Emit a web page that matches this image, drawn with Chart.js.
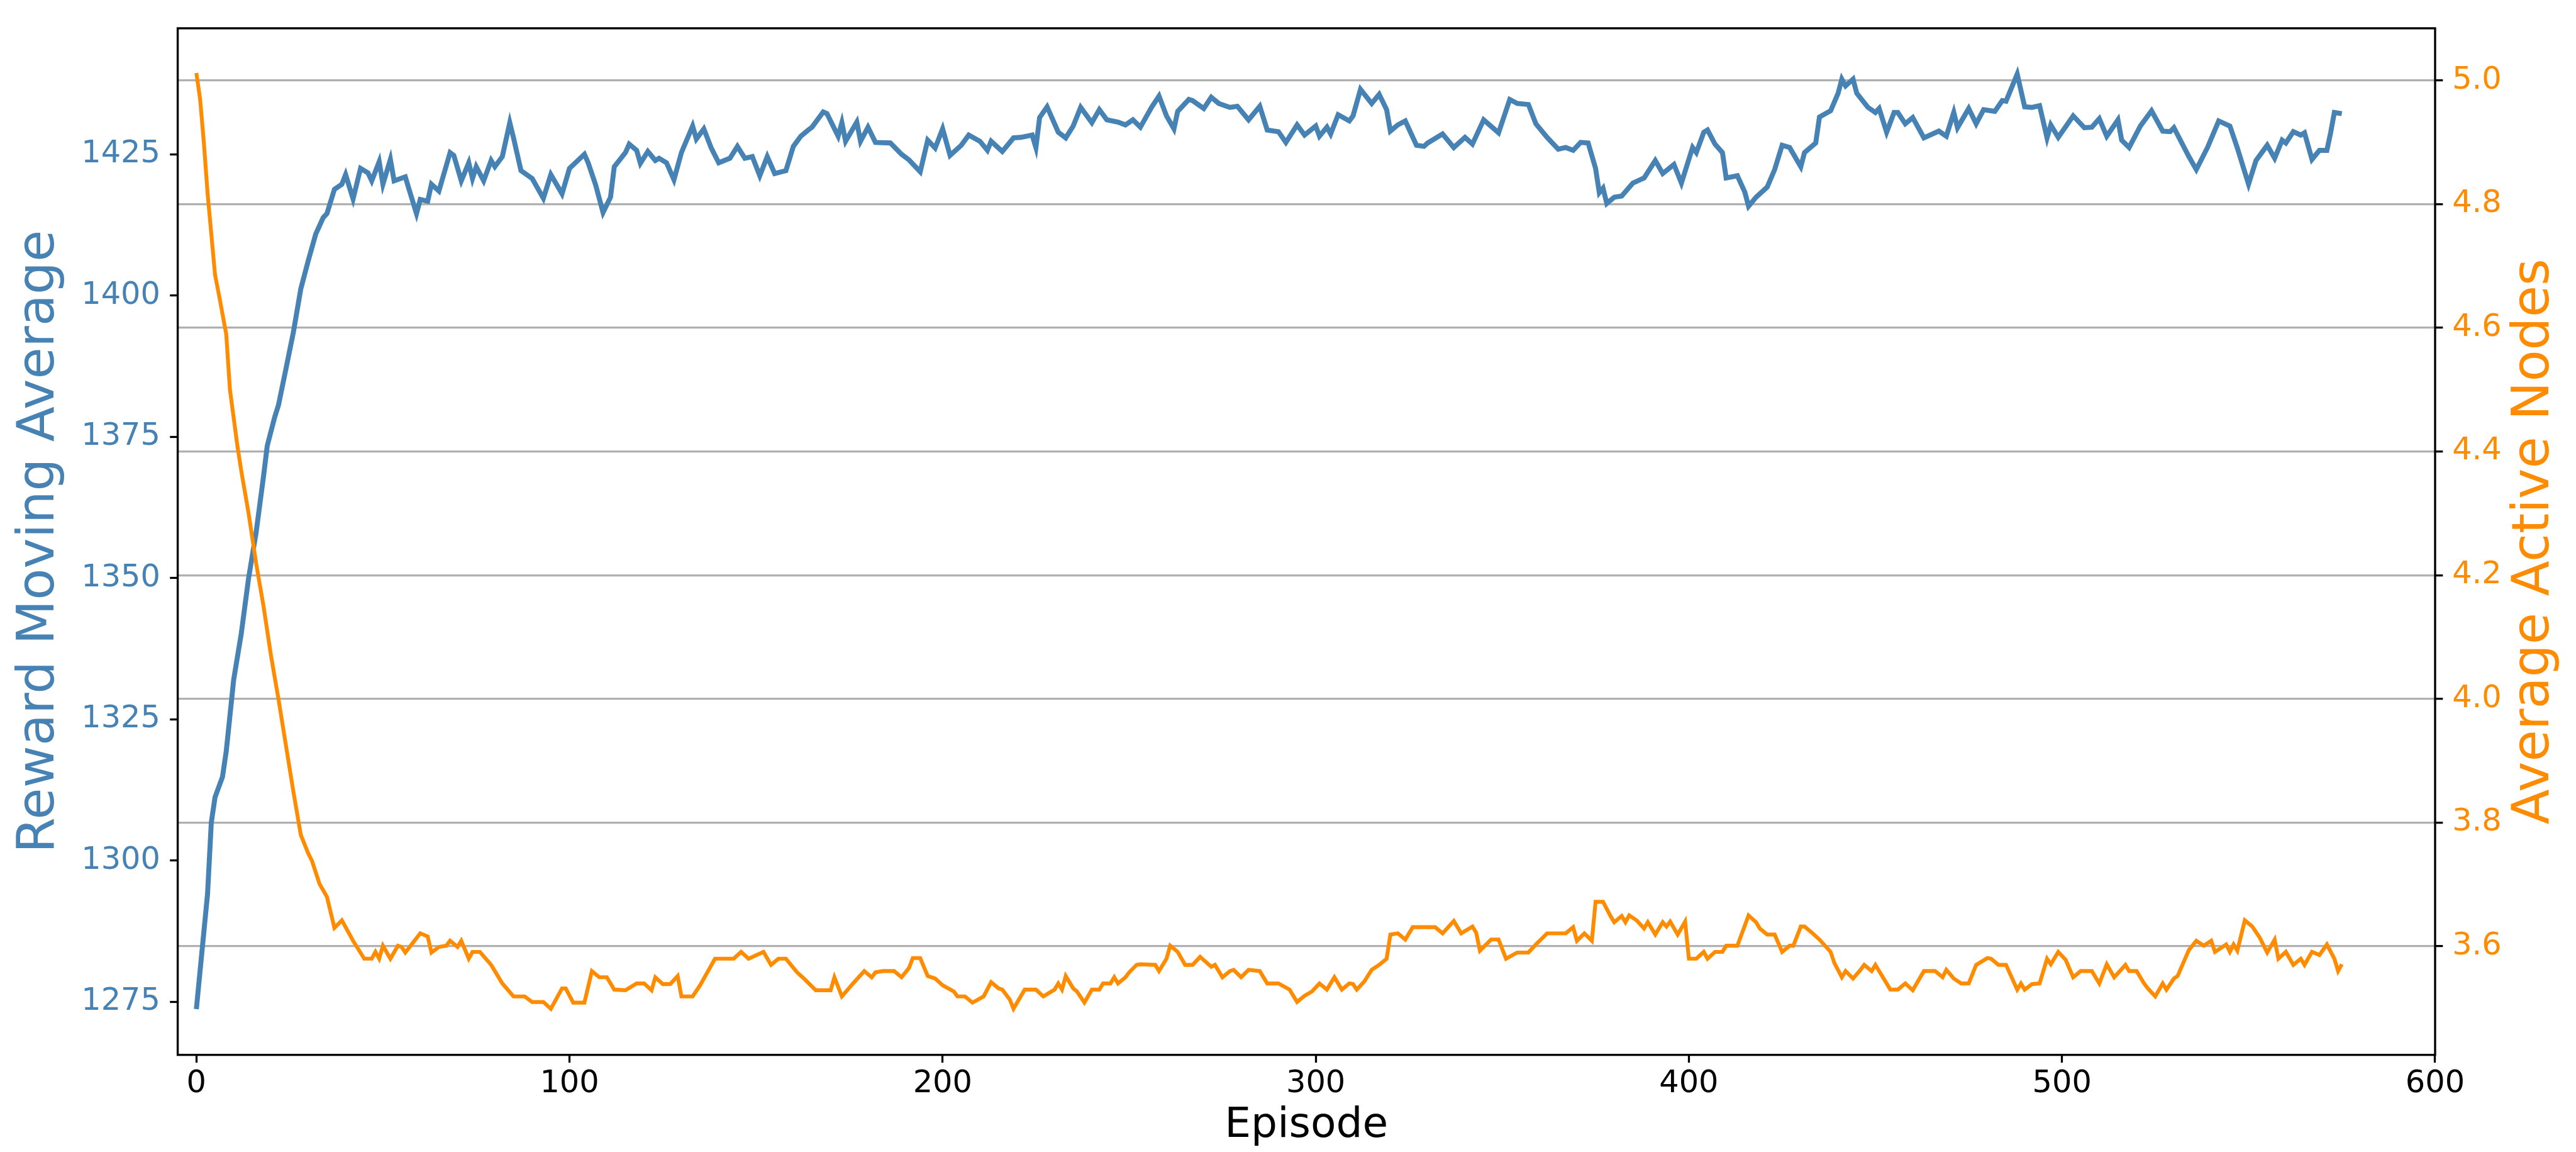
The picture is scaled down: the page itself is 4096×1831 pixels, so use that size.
<!DOCTYPE html>
<html>
<head>
<meta charset="utf-8">
<script src="https://cdn.jsdelivr.net/npm/chart.js@4/dist/chart.umd.min.js"></script>
<style>
  html, body { margin: 0; padding: 0; background: #fff; }
  canvas { display: block; }
</style>
</head>
<body>
<canvas id="rewardChart" width="4096" height="1831"></canvas>
<script>
// values
const rewardEpisodes = [0, 3, 4, 5, 7, 8, 10, 12, 14, 16, 18, 19, 21, 22, 24, 26, 28, 30, 32, 34, 35, 37, 39, 40, 42, 44, 46, 47, 49, 50, 52, 53, 56, 57, 59, 60, 62, 63, 65, 68, 69, 71, 73, 74, 75, 77, 79, 80, 82, 84, 85, 87, 90, 93, 95, 98, 100, 104, 105, 107, 109, 111, 112, 115, 116, 118, 119, 121, 123, 124, 126, 128, 130, 133, 134, 136, 138, 140, 143, 145, 147, 149, 151, 153, 155, 158, 160, 162, 164, 165, 168, 169, 172, 173, 174, 177, 178, 180, 182, 186, 189, 191, 194, 196, 198, 200, 202, 205, 207, 210, 212, 213, 216, 219, 221, 224, 225, 226, 228, 231, 233, 235, 237, 239, 240, 242, 244, 247, 249, 251, 253, 256, 258, 260, 262, 263, 266, 267, 270, 272, 274, 277, 279, 282, 285, 287, 290, 292, 295, 297, 300, 301, 303, 304, 306, 309, 310, 312, 315, 317, 319, 320, 322, 324, 327, 329, 330, 334, 337, 340, 342, 345, 349, 352, 354, 357, 359, 362, 365, 367, 369, 371, 373, 375, 376, 377, 378, 380, 382, 385, 388, 391, 393, 396, 398, 401, 402, 404, 405, 407, 409, 410, 413, 415, 416, 418, 421, 423, 425, 427, 430, 431, 434, 435, 438, 440, 441, 442, 444, 445, 448, 450, 451, 453, 455, 456, 458, 460, 463, 467, 469, 471, 472, 475, 477, 479, 482, 484, 485, 488, 490, 492, 494, 496, 497, 499, 503, 506, 508, 510, 512, 515, 516, 518, 521, 524, 527, 529, 530, 534, 536, 539, 542, 545, 547, 550, 552, 555, 557, 559, 560, 562, 564, 565, 567, 569, 571, 572, 573, 575];
const rewardValues = [1273.7, 1294.1, 1306.7, 1311.2, 1314.8, 1319.3, 1332.0, 1340.0, 1350.0, 1358.0, 1368.0, 1373.4, 1378.5, 1380.6, 1387.0, 1393.5, 1401.2, 1406.2, 1410.9, 1413.8, 1414.5, 1418.8, 1419.7, 1421.4, 1417.1, 1422.5, 1421.7, 1420.3, 1423.7, 1419.7, 1424.1, 1420.3, 1421.0, 1418.8, 1414.5, 1417.0, 1416.7, 1419.7, 1418.5, 1425.3, 1424.8, 1420.3, 1423.5, 1420.7, 1422.8, 1420.3, 1423.9, 1422.8, 1424.6, 1430.6, 1427.9, 1422.1, 1420.7, 1417.2, 1421.4, 1418.0, 1422.5, 1425.0, 1423.5, 1419.6, 1414.7, 1417.4, 1422.8, 1425.3, 1426.8, 1425.7, 1423.4, 1425.5, 1423.9, 1424.3, 1423.5, 1420.5, 1425.3, 1430.0, 1427.7, 1429.5, 1426.1, 1423.5, 1424.3, 1426.4, 1424.3, 1424.6, 1421.2, 1424.6, 1421.6, 1422.1, 1426.4, 1428.2, 1429.3, 1429.8, 1432.5, 1432.2, 1428.2, 1430.6, 1427.3, 1430.7, 1427.3, 1429.8, 1427.1, 1427.0, 1425.0, 1424.0, 1421.9, 1427.5, 1426.1, 1429.5, 1424.8, 1426.6, 1428.4, 1427.3, 1425.7, 1427.3, 1425.5, 1427.9, 1428.0, 1428.4, 1426.2, 1431.5, 1433.4, 1428.9, 1427.9, 1430.0, 1433.3, 1431.5, 1430.6, 1432.9, 1431.1, 1430.7, 1430.2, 1431.1, 1429.8, 1433.3, 1435.3, 1431.8, 1429.5, 1432.6, 1434.7, 1434.5, 1433.1, 1435.1, 1434.0, 1433.3, 1433.5, 1431.1, 1433.5, 1429.3, 1429.0, 1427.1, 1430.2, 1428.4, 1430.0, 1428.2, 1429.8, 1428.6, 1432.0, 1430.9, 1431.8, 1436.5, 1434.0, 1435.6, 1432.9, 1429.1, 1430.2, 1430.9, 1426.6, 1426.4, 1427.0, 1428.6, 1426.2, 1428.0, 1426.8, 1431.1, 1428.8, 1434.7, 1434.0, 1433.8, 1430.4, 1428.0, 1425.9, 1426.2, 1425.7, 1427.1, 1427.0, 1422.5, 1418.2, 1419.0, 1416.3, 1417.4, 1417.6, 1419.9, 1420.8, 1423.9, 1421.6, 1423.2, 1419.9, 1426.2, 1425.3, 1428.9, 1429.3, 1426.8, 1425.3, 1420.8, 1421.2, 1418.3, 1415.8, 1417.4, 1419.2, 1422.3, 1426.6, 1426.2, 1422.8, 1425.3, 1427.0, 1431.6, 1432.7, 1435.8, 1438.3, 1437.1, 1438.3, 1435.8, 1433.3, 1432.4, 1433.1, 1428.9, 1432.4, 1432.4, 1430.4, 1431.5, 1427.9, 1429.1, 1428.2, 1432.4, 1429.7, 1433.1, 1430.4, 1432.9, 1432.6, 1434.5, 1434.4, 1439.2, 1433.4, 1433.3, 1433.6, 1427.9, 1430.2, 1428.0, 1431.8, 1429.7, 1429.8, 1431.3, 1428.2, 1431.1, 1427.5, 1426.2, 1430.0, 1432.7, 1429.1, 1429.0, 1429.7, 1424.6, 1422.3, 1426.2, 1430.9, 1430.0, 1426.1, 1419.7, 1423.9, 1426.6, 1424.3, 1427.5, 1427.0, 1429.0, 1428.4, 1428.8, 1424.1, 1425.7, 1425.7, 1428.8, 1432.4, 1432.2];

const nodeEpisodes = [0, 1, 2, 3, 5, 6, 8, 9, 11, 12, 14, 16, 18, 20, 22, 24, 26, 28, 30, 31, 33, 35, 37, 39, 42, 45, 47, 48, 49, 50, 52, 54, 55, 56, 60, 62, 63, 65, 67, 68, 70, 71, 73, 74, 76, 79, 80, 82, 85, 88, 90, 93, 95, 98, 99, 101, 104, 106, 108, 110, 112, 115, 118, 120, 122, 123, 125, 127, 129, 130, 133, 135, 139, 144, 146, 148, 152, 154, 156, 158, 161, 163, 166, 170, 171, 173, 176, 179, 181, 182, 184, 187, 189, 191, 192, 194, 196, 198, 200, 203, 204, 206, 208, 211, 213, 215, 216, 218, 219, 222, 225, 227, 230, 231, 232, 233, 235, 236, 238, 240, 242, 243, 245, 246, 247, 249, 250, 252, 253, 257, 258, 260, 261, 263, 265, 267, 269, 272, 273, 275, 277, 278, 280, 282, 285, 287, 290, 293, 295, 297, 299, 301, 303, 305, 307, 309, 310, 311, 313, 315, 317, 319, 320, 322, 324, 326, 332, 334, 337, 339, 342, 343, 344, 347, 349, 351, 354, 357, 359, 362, 367, 369, 370, 372, 374, 375, 377, 379, 380, 382, 383, 384, 386, 388, 389, 391, 393, 394, 395, 397, 399, 400, 402, 404, 405, 407, 409, 410, 413, 416, 418, 419, 421, 423, 425, 427, 428, 430, 431, 433, 435, 438, 439, 441, 442, 444, 446, 447, 449, 450, 452, 454, 456, 458, 460, 463, 466, 468, 469, 471, 473, 475, 477, 480, 481, 483, 485, 488, 489, 490, 492, 494, 496, 497, 499, 501, 503, 505, 508, 510, 512, 514, 517, 518, 520, 522, 523, 525, 527, 528, 530, 531, 534, 536, 538, 540, 541, 544, 545, 546, 547, 549, 551, 553, 555, 557, 558, 560, 562, 564, 565, 567, 569, 571, 573, 574, 575];
const nodeValues = [5.012, 4.97, 4.90, 4.818, 4.686, 4.655, 4.59, 4.50, 4.409, 4.37, 4.30, 4.22, 4.15, 4.07, 4.00, 3.925, 3.85, 3.78, 3.75, 3.738, 3.701, 3.680, 3.630, 3.642, 3.609, 3.580, 3.580, 3.591, 3.580, 3.601, 3.580, 3.601, 3.599, 3.590, 3.621, 3.616, 3.590, 3.599, 3.601, 3.609, 3.599, 3.609, 3.580, 3.591, 3.591, 3.570, 3.560, 3.540, 3.519, 3.519, 3.510, 3.510, 3.499, 3.532, 3.532, 3.509, 3.509, 3.560, 3.550, 3.550, 3.530, 3.529, 3.540, 3.540, 3.529, 3.550, 3.539, 3.539, 3.552, 3.519, 3.519, 3.537, 3.580, 3.580, 3.591, 3.580, 3.591, 3.570, 3.580, 3.580, 3.558, 3.547, 3.529, 3.529, 3.550, 3.519, 3.540, 3.560, 3.550, 3.558, 3.560, 3.560, 3.550, 3.565, 3.581, 3.581, 3.552, 3.548, 3.537, 3.527, 3.519, 3.519, 3.509, 3.519, 3.542, 3.532, 3.530, 3.514, 3.499, 3.530, 3.530, 3.519, 3.530, 3.540, 3.530, 3.552, 3.532, 3.527, 3.509, 3.530, 3.530, 3.540, 3.540, 3.550, 3.540, 3.550, 3.558, 3.570, 3.571, 3.570, 3.560, 3.580, 3.601, 3.591, 3.570, 3.570, 3.583, 3.567, 3.570, 3.550, 3.560, 3.562, 3.550, 3.562, 3.560, 3.540, 3.540, 3.530, 3.510, 3.520, 3.527, 3.540, 3.530, 3.550, 3.530, 3.540, 3.539, 3.530, 3.543, 3.562, 3.570, 3.580, 3.619, 3.621, 3.611, 3.631, 3.631, 3.621, 3.641, 3.621, 3.632, 3.622, 3.593, 3.611, 3.611, 3.580, 3.590, 3.590, 3.603, 3.621, 3.621, 3.631, 3.609, 3.621, 3.609, 3.672, 3.672, 3.649, 3.639, 3.649, 3.639, 3.650, 3.642, 3.629, 3.639, 3.619, 3.639, 3.632, 3.640, 3.619, 3.640, 3.580, 3.580, 3.591, 3.580, 3.591, 3.591, 3.601, 3.601, 3.650, 3.639, 3.629, 3.619, 3.619, 3.591, 3.601, 3.601, 3.632, 3.632, 3.622, 3.611, 3.591, 3.573, 3.550, 3.560, 3.548, 3.562, 3.570, 3.560, 3.570, 3.550, 3.530, 3.530, 3.540, 3.529, 3.560, 3.560, 3.550, 3.562, 3.548, 3.540, 3.540, 3.570, 3.581, 3.580, 3.570, 3.570, 3.530, 3.540, 3.530, 3.539, 3.540, 3.580, 3.571, 3.591, 3.578, 3.550, 3.560, 3.560, 3.540, 3.571, 3.550, 3.570, 3.560, 3.560, 3.540, 3.532, 3.519, 3.540, 3.530, 3.548, 3.552, 3.594, 3.609, 3.601, 3.609, 3.591, 3.603, 3.591, 3.603, 3.593, 3.642, 3.632, 3.614, 3.590, 3.611, 3.580, 3.591, 3.570, 3.580, 3.570, 3.591, 3.586, 3.603, 3.580, 3.560, 3.571];

const episodeTicks = [0, 100, 200, 300, 400, 500, 600];
const rewardTicks = [1275, 1300, 1325, 1350, 1375, 1400, 1425];
const nodeTicks = [3.6, 3.8, 4.0, 4.2, 4.4, 4.6, 4.8, 5.0];

const S = 0.988; // reference px -> page px
const blue = '#4682b4';
const orange = '#ff8c00';
const fontFamily = "'DejaVu Sans', sans-serif";

const rewardPoints = rewardEpisodes.map((e, i) => ({ x: e, y: rewardValues[i] }));
const nodePoints = nodeEpisodes.map((e, i) => ({ x: e, y: nodeValues[i] }));

// spines all round + the right label, which reads bottom to top
const framePlugin = {
  id: 'frame',
  afterDraw(chart) {
    const { ctx, chartArea: a } = chart;
    ctx.save();
    ctx.strokeStyle = '#000';
    ctx.lineWidth = 3.4 * S;
    ctx.strokeRect(a.left, a.top, a.right - a.left, a.bottom - a.top);
    ctx.translate(4080 * S, (a.top + a.bottom) / 2);
    ctx.rotate(-Math.PI / 2);
    ctx.font = (83 * S) + 'px ' + fontFamily;
    ctx.fillStyle = orange;
    ctx.textAlign = 'center';
    ctx.textBaseline = 'middle';
    ctx.fillText('Average Active Nodes', 0, 0);
    ctx.restore();
  }
};

const tickMarks = {
  drawOnChartArea: false,
  drawTicks: true,
  tickLength: 12.5 * S,
  tickWidth: 3.3 * S,
  tickColor: '#000'
};

new Chart(document.getElementById('rewardChart'), {
  type: 'line',
  data: {
    datasets: [
      {
        label: 'Reward Moving Average',
        data: rewardPoints,
        yAxisID: 'y',
        borderColor: blue,
        borderWidth: 8 * S,
        pointRadius: 0,
        tension: 0,
        fill: false,
        order: 2
      },
      {
        label: 'Average Active Nodes',
        data: nodePoints,
        yAxisID: 'y1',
        borderColor: orange,
        borderWidth: 6.2 * S,
        pointRadius: 0,
        tension: 0,
        fill: false,
        order: 1
      }
    ]
  },
  options: {
    responsive: false,
    devicePixelRatio: 1,
    animation: false,
    layout: { padding: { top: 16.5 * S, left: 0, right: 0, bottom: 0 } },
    plugins: {
      legend: { display: false },
      tooltip: { enabled: false }
    },
    scales: {
      x: {
        type: 'linear',
        position: 'bottom',
        min: -5,
        max: 600,
        afterBuildTicks: s => { s.ticks = episodeTicks.map(v => ({ value: v })); },
        afterFit: s => { s.height = 1831 - 1697 * S; },
        ticks: {
          autoSkip: false,
          maxRotation: 0,
          color: '#000',
          padding: 5 * S,
          font: { family: fontFamily, size: 50 * S },
          callback: v => String(v)
        },
        grid: tickMarks,
        border: { display: false },
        title: {
          display: true,
          text: 'Episode',
          color: '#000',
          font: { family: fontFamily, size: 67 * S, lineHeight: 1.2 },
          padding: { top: 0, bottom: 1 }
        }
      },
      y: {
        type: 'linear',
        position: 'left',
        min: 1265.6,
        max: 1447.3,
        afterBuildTicks: s => { s.ticks = rewardTicks.map(v => ({ value: v })); },
        afterFit: s => { s.width = 286 * S; },
        ticks: {
          autoSkip: false,
          color: blue,
          padding: 15.5 * S,
          font: { family: fontFamily, size: 50 * S },
          callback: v => String(v)
        },
        grid: tickMarks,
        border: { display: false },
        title: {
          display: true,
          text: 'Reward Moving Average',
          color: blue,
          font: { family: fontFamily, size: 83 * S, lineHeight: 1.2 },
          padding: { top: 15, bottom: 0 }
        }
      },
      y1: {
        type: 'linear',
        position: 'right',
        min: 3.4245,
        max: 5.0843,
        afterBuildTicks: s => { s.ticks = nodeTicks.map(v => ({ value: v })); },
        afterFit: s => { s.width = 4096 - 3919 * S; },
        ticks: {
          autoSkip: false,
          color: orange,
          padding: 15 * S,
          font: { family: fontFamily, size: 50 * S },
          callback: v => v.toFixed(1)
        },
        grid: {
          drawOnChartArea: true,
          color: '#b0b0b0',
          lineWidth: 3.3 * S,
          drawTicks: true,
          tickLength: 12.5 * S,
          tickWidth: 3.3 * S,
          tickColor: '#000'
        },
        border: { display: false },
        title: { display: false }
      }
    }
  },
  plugins: [framePlugin]
});
</script>
</body>
</html>
